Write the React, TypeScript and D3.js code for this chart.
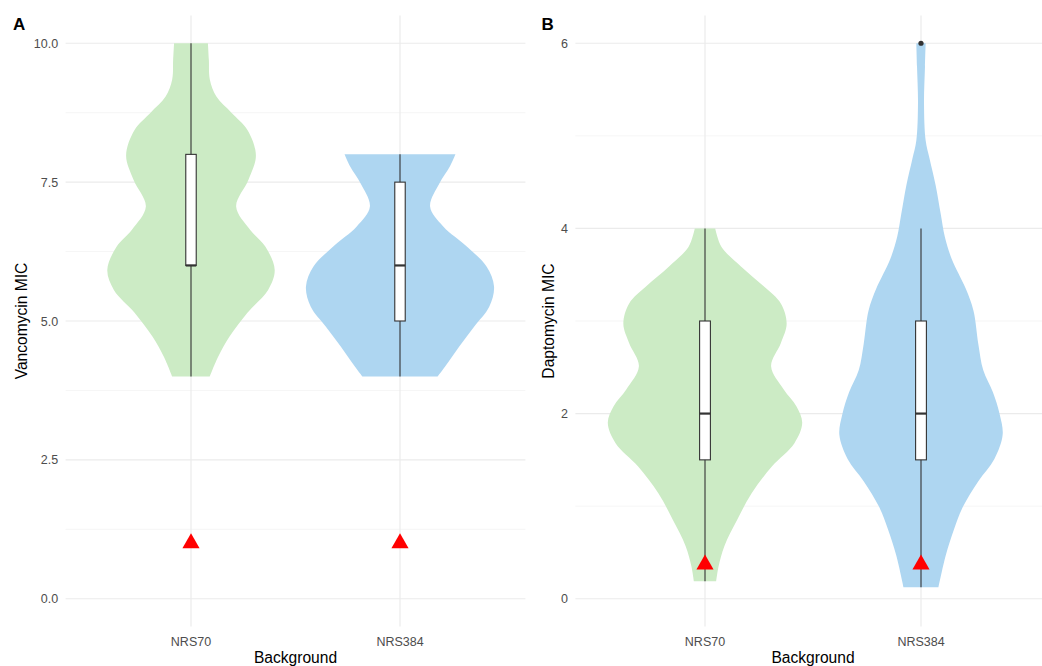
import React from "react";
import * as d3 from "d3";

const categories = ["NRS70", "NRS384"];
const violinColors = ["#CCEBC5", "#AED6F1"];

const vancoTicks = [0, 2.5, 5, 7.5, 10];
const vancoTickLabels = ["0.0", "2.5", "5.0", "7.5", "10.0"];
const vancoMinorTicks = [1.25, 3.75, 6.25, 8.75];
const daptoTicks = [0, 2, 4, 6];
const daptoTickLabels = ["0", "2", "4", "6"];
const daptoMinorTicks = [1, 3, 5];

// violin profiles: [MIC value, relative density]
const vancoNRS70Violin: [number, number][] = [
  [4.0, 0.2], [4.36, 0.29], [4.72, 0.41], [5.15, 0.6], [5.56, 0.82], [5.92, 0.89],
  [6.34, 0.79], [6.64, 0.63], [7.06, 0.48], [7.54, 0.61], [7.98, 0.69], [8.44, 0.6],
  [8.75, 0.43], [9.04, 0.27], [9.35, 0.2], [9.7, 0.19], [10.0, 0.18],
];
const vancoNRS384Violin: [number, number][] = [
  [4.0, 0.4], [4.18, 0.48], [4.54, 0.63], [4.9, 0.79], [5.26, 0.95], [5.62, 1.0],
  [5.98, 0.92], [6.34, 0.71], [6.7, 0.46], [7.06, 0.32], [7.48, 0.42], [7.78, 0.53],
  [8.0, 0.59],
];
const daptoNRS70Violin: [number, number][] = [
  [0.19, 0.115], [0.35, 0.14], [0.57, 0.2], [0.85, 0.33], [1.14, 0.48], [1.43, 0.69],
  [1.68, 0.92], [1.9, 1.0], [2.08, 0.94], [2.26, 0.81], [2.51, 0.68], [2.76, 0.78],
  [2.97, 0.84], [3.19, 0.78], [3.37, 0.61], [3.59, 0.37], [3.8, 0.17], [4.0, 0.105],
];
const daptoNRS384Violin: [number, number][] = [
  [0.125, 0.18], [0.47, 0.255], [0.75, 0.34], [0.99, 0.43], [1.27, 0.59], [1.51, 0.755],
  [1.77, 0.84], [1.99, 0.81], [2.23, 0.74], [2.47, 0.64], [2.75, 0.59], [3.11, 0.54],
  [3.35, 0.46], [3.67, 0.316], [3.91, 0.245], [4.15, 0.204], [4.47, 0.15], [4.75, 0.089],
  [4.95, 0.048], [5.35, 0.031], [5.75, 0.041], [6.0, 0.048],
];

const vancoBoxes = [
  { min: 4, q1: 6, median: 6, q3: 8, max: 10 },
  { min: 4, q1: 5, median: 6, q3: 7.5, max: 8 },
];
const daptoBoxes = [
  { min: 0.19, q1: 1.5, median: 2, q3: 3, max: 4 },
  { min: 0.125, q1: 1.5, median: 2, q3: 3, max: 4 },
];
const vancoOutliers: number[][] = [[], []];
const daptoOutliers: number[][] = [[], [6]];
const vancoBreakpoints = [1, 1];
const daptoBreakpoints = [0.37, 0.37];

const W = 1042;
const H = 666;
const FONT = "'Liberation Sans', Arial, Helvetica, sans-serif";
const TOP = 15.5;
const BOTTOM = 626.5;

type Box = { min: number; q1: number; median: number; q3: number; max: number };

function Panel(props: {
  left: number;
  right: number;
  domain: [number, number];
  ticks: number[];
  tickLabels: string[];
  minor: number[];
  violins: [number, number][][];
  boxes: Box[];
  outliers: number[][];
  breakpoints: number[];
  yTitle: string;
  yTitleX: number;
  letter: string;
  letterX: number;
}) {
  const x = d3.scalePoint<string>().domain(categories).range([props.left, props.right]).padding(0.6);
  const y = d3.scaleLinear().domain(props.domain).range([BOTTOM, TOP]);
  const step = x.step();
  const halfMax = 0.45 * step;
  const boxHalf = 0.025 * step;
  const cy = (TOP + BOTTOM) / 2;
  const r = 9.9;

  return (
    <g>
      {props.minor.map((t) => (
        <line key={"mi" + t} x1={props.left} x2={props.right} y1={y(t)} y2={y(t)} stroke="#F0F0F0" strokeWidth={0.7} />
      ))}
      {props.ticks.map((t) => (
        <line key={"ma" + t} x1={props.left} x2={props.right} y1={y(t)} y2={y(t)} stroke="#EBEBEB" strokeWidth={1.2} />
      ))}
      {categories.map((c) => (
        <line key={"v" + c} x1={x(c)!} x2={x(c)!} y1={TOP} y2={BOTTOM} stroke="#EBEBEB" strokeWidth={1.2} />
      ))}
      {categories.map((c, i) => {
        const cx = x(c)!;
        const area = d3
          .area<[number, number]>()
          .y((d) => y(d[0]))
          .x0((d) => cx - d[1] * halfMax)
          .x1((d) => cx + d[1] * halfMax)
          .curve(d3.curveCatmullRom.alpha(0.5));
        return <path key={"vi" + c} d={area(props.violins[i]) || ""} fill={violinColors[i]} stroke="none" />;
      })}
      {categories.map((c, i) => {
        const cx = x(c)!;
        const b = props.boxes[i];
        return (
          <g key={"b" + c}>
            <line x1={cx} x2={cx} y1={y(b.min)} y2={y(b.max)} stroke="#333333" strokeWidth={1.1} />
            <rect x={cx - boxHalf} width={boxHalf * 2} y={y(b.q3)} height={y(b.q1) - y(b.q3)} fill="#FFFFFF" stroke="#333333" strokeWidth={1.1} />
            <line x1={cx - boxHalf} x2={cx + boxHalf} y1={y(b.median)} y2={y(b.median)} stroke="#333333" strokeWidth={2.2} />
            {props.outliers[i].map((o) => (
              <circle key={"o" + o} cx={cx} cy={y(o)} r={2.6} fill="#333333" />
            ))}
          </g>
        );
      })}
      {categories.map((c, i) => {
        const cx = x(c)!;
        const py = y(props.breakpoints[i]);
        const pts = [
          [cx, py - r],
          [cx + r * Math.sin(Math.PI / 3), py + r / 2],
          [cx - r * Math.sin(Math.PI / 3), py + r / 2],
        ];
        return <polygon key={"t" + c} points={pts.map((p) => p.join(",")).join(" ")} fill="#FF0000" />;
      })}
      {props.ticks.map((t, i) => (
        <text key={"tl" + t} x={props.left - 7.5} y={y(t)} dy="0.36em" textAnchor="end" fontSize={12.5} fill="#4D4D4D" fontFamily={FONT}>
          {props.tickLabels[i]}
        </text>
      ))}
      {categories.map((c) => (
        <text key={"xl" + c} x={x(c)!} y={645.7} textAnchor="middle" fontSize={12.5} fill="#4D4D4D" fontFamily={FONT}>
          {c}
        </text>
      ))}
      <text x={(props.left + props.right) / 2} y={663} textAnchor="middle" fontSize={15.6} fill="#000000" fontFamily={FONT}>
        Background
      </text>
      <text transform={`translate(${props.yTitleX},${cy}) rotate(-90)`} textAnchor="middle" fontSize={15.6} fill="#000000" fontFamily={FONT}>
        {props.yTitle}
      </text>
      <text x={props.letterX} y={30} fontSize={17} fontWeight="bold" fill="#000000" fontFamily={FONT}>
        {props.letter}
      </text>
    </g>
  );
}

export default function App() {
  return (
    <svg
      width={W}
      height={H}
      viewBox={`0 0 ${W} ${H}`}
      style={{ position: "absolute", left: 0, top: 0, display: "block", background: "#FFFFFF" }}
    >
      <rect x={0} y={0} width={W} height={H} fill="#FFFFFF" />
      <Panel
        left={65.6}
        right={525.4}
        domain={[-0.5, 10.5]}
        ticks={vancoTicks}
        tickLabels={vancoTickLabels}
        minor={vancoMinorTicks}
        violins={[vancoNRS70Violin, vancoNRS384Violin]}
        boxes={vancoBoxes}
        outliers={vancoOutliers}
        breakpoints={vancoBreakpoints}
        yTitle="Vancomycin MIC"
        yTitleX={26.5}
        letter="A"
        letterX={13}
      />
      <Panel
        left={575.4}
        right={1050.6}
        domain={[-0.3, 6.3]}
        ticks={daptoTicks}
        tickLabels={daptoTickLabels}
        minor={daptoMinorTicks}
        violins={[daptoNRS70Violin, daptoNRS384Violin]}
        boxes={daptoBoxes}
        outliers={daptoOutliers}
        breakpoints={daptoBreakpoints}
        yTitle="Daptomycin MIC"
        yTitleX={553.5}
        letter="B"
        letterX={541.5}
      />
    </svg>
  );
}
